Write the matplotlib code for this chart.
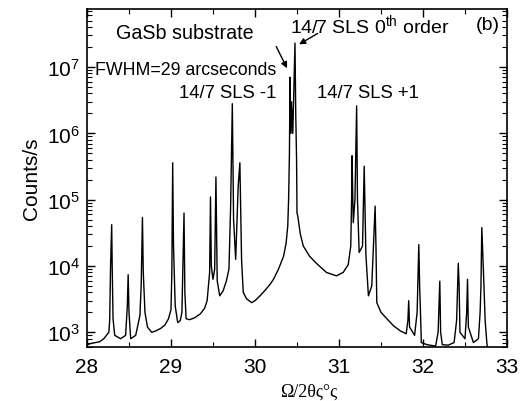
import matplotlib
matplotlib.use('Agg')
import matplotlib.pyplot as plt

plt.rcParams['font.family'] = ['Liberation Sans', 'DejaVu Sans']
plt.rcParams['mathtext.fontset'] = 'custom'
plt.rcParams['mathtext.rm'] = 'Liberation Sans'
plt.rcParams['mathtext.it'] = 'Liberation Sans:italic'

# Datos
dos_theta = [28.00, 28.05, 28.10, 28.15, 28.20, 28.26, 28.27, 28.28, 28.294, 28.30, 28.31, 28.33,
             28.40, 28.46, 28.48, 28.49, 28.50, 28.52, 28.58, 28.63, 28.645, 28.66,
             28.67, 28.69, 28.72, 28.77, 28.82, 28.88, 28.93, 28.97, 29.00, 29.01, 29.02, 29.03, 29.05,
             29.08, 29.11, 29.13, 29.14, 29.155, 29.165, 29.18, 29.22, 29.28, 29.35, 29.40, 29.43, 29.46,
             29.47, 29.48, 29.50, 29.52, 29.535, 29.55, 29.58, 29.62, 29.66, 29.69, 29.71,
             29.73, 29.745, 29.77, 29.80, 29.82, 29.84, 29.86, 29.90, 29.96, 30.00, 30.06, 30.12,
             30.18, 30.22, 30.28, 30.34, 30.37, 30.39, 30.40, 30.41, 30.417, 30.425, 30.435, 30.45,
             30.476, 30.485, 30.495, 30.50, 30.51, 30.54, 30.575, 30.65, 30.73, 30.85, 30.97, 31.05,
             31.11, 31.14, 31.15, 31.155, 31.17, 31.19, 31.21, 31.22, 31.24, 31.28, 31.30, 31.32,
             31.35, 31.39, 31.41, 31.43, 31.44, 31.45, 31.50, 31.57, 31.65, 31.73, 31.80, 31.82,
             31.83, 31.84, 31.90, 31.93, 31.95, 31.96, 31.97, 31.98, 32.05, 32.15,
             32.18, 32.20, 32.21, 32.23, 32.30, 32.37, 32.40, 32.42, 32.43, 32.44, 32.50,
             32.52, 32.53, 32.54, 32.60, 32.66, 32.68, 32.69, 32.70, 32.72, 32.74, 32.76,
             32.78]
cuentas = [650, 680, 700, 720, 800, 1000, 1500, 9000, 4.2e4, 1.0e4, 1600, 900,
           800, 900, 2500, 7.4e3, 2000, 800, 900, 1800, 5000, 5.4e4,
           8000, 2000, 1200, 1000, 1050, 1150, 1300, 1600, 2200, 8000, 3.6e5, 2.0e4, 2500,
           1400, 1500, 2000, 8000, 6.3e4, 4000, 1600, 1550, 1650, 1900, 2300, 3000, 8000,
           1.1e5, 1.0e4, 6300, 9000, 2.2e5, 6000, 3550, 4200, 6000, 9000, 8.0e4,
           2.8e6, 5.0e4, 1.26e4, 1.6e5, 3.6e5, 1.26e4, 4000, 3200, 2800, 3000, 3550, 4300,
           5300, 6300, 9000, 1.4e4, 2.2e4, 4.0e4, 1.0e5, 5.0e5, 7.0e6, 1.0e6, 3.0e6, 1.0e6,
           2.3e7, 2.0e6, 4.0e5, 6.3e4, 5.6e4, 3.0e4, 2.0e4, 1.4e4, 1.1e4, 8000, 7100, 8000,
           1.05e4, 2.0e4, 1.0e5, 4.6e5, 4.5e4, 1.0e5, 2.6e6, 1.0e5, 1.6e4, 2.0e4, 3.2e5, 1.5e4,
           3550, 5000, 2.0e4, 8.0e4, 2.0e4, 2800, 2000, 1600, 1250, 1050, 950, 1500,
           3.0e3, 1200, 900, 2000, 2.1e4, 5000, 2000, 700, 650, 620,
           1000, 5.9e3, 1000, 650, 640, 700, 1500, 1.1e4, 5000, 1000, 800,
           2000, 6.3e3, 1200, 700, 800, 2000, 5000, 3.8e4, 8000, 1500, 700,
           400]

fig = plt.figure(figsize=(5.2, 4.02), dpi=100)
ax = fig.add_axes([0.1673, 0.1343, 0.8077, 0.8407])
ax.plot(dos_theta, cuentas, color='black', lw=1.0)
ax.set_yscale('log')
ax.set_xlim(28, 33)
ax.set_ylim(6e2, 7.5e7)
ax.set_xticks([28, 29, 30, 31, 32, 33])
ax.set_xticks([28.5, 29.5, 30.5, 31.5, 32.5], minor=True)
ax.set_yticks([1e3, 1e4, 1e5, 1e6, 1e7])
ax.tick_params(which='both', direction='in', top=True, right=True, labelsize=15)
ax.tick_params(which='major', length=6, width=1)
ax.tick_params(which='minor', length=3.5, width=0.8)
ax.tick_params(axis='x', which='major', pad=7)
ax.tick_params(axis='y', which='major', pad=5)
for s in ax.spines.values():
    s.set_linewidth(1.2)

ax.set_ylabel('Counts/s', fontsize=15, labelpad=4)
fig.text(309 / 520, (402 - 392) / 402, 'Ω/2θς°ς', family='Liberation Serif', fontsize=13,
         ha='center', va='center')

# Textos
def px(x, y):
    return ((x - 87) / 420.0, (348 - y) / 338.0)

ax.text(*px(185, 33), 'GaSb substrate', transform=ax.transAxes, fontsize=14.2, ha='center', va='center')
ax.text(*px(370, 25), '14/7 SLS 0$^{\\mathrm{th}}$ order', transform=ax.transAxes, fontsize=14, ha='center', va='center')
ax.text(*px(488, 25), '(b)', transform=ax.transAxes, fontsize=14, ha='center', va='center')
ax.text(*px(186, 70), 'FWHM=29 arcseconds', transform=ax.transAxes, fontsize=12.8, ha='center', va='center')
ax.text(*px(228, 93), '14/7 SLS -1', transform=ax.transAxes, fontsize=13.3, ha='center', va='center')
ax.text(*px(368, 93), '14/7 SLS +1', transform=ax.transAxes, fontsize=13.3, ha='center', va='center')

ax.annotate('', xy=px(288.3, 71.7), xytext=px(275, 45), xycoords='axes fraction', textcoords='axes fraction',
            arrowprops=dict(arrowstyle='-|>', color='black', lw=1, mutation_scale=9))
ax.annotate('', xy=px(296.7, 46.7), xytext=px(320, 33), xycoords='axes fraction', textcoords='axes fraction',
            arrowprops=dict(arrowstyle='-|>', color='black', lw=1, mutation_scale=9))

fig.savefig('out.png', dpi=100)
